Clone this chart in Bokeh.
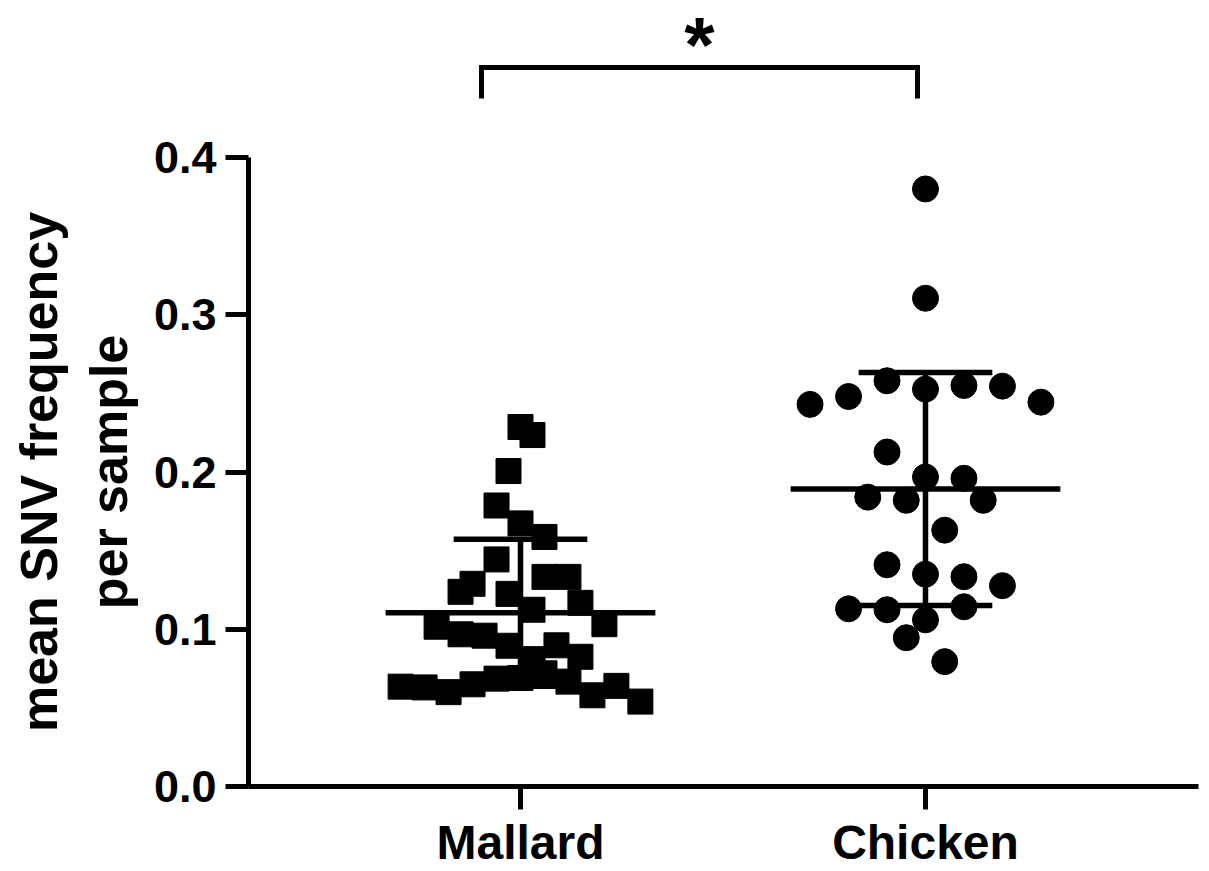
from bokeh.plotting import figure
from bokeh.models import FixedTicker, PrintfTickFormatter, Range1d
from bokeh.layouts import column
from bokeh.core.properties import value
from bokeh.embed import file_html
from bokeh.resources import INLINE

# ---------------- data ----------------
categories = ["Mallard", "Chicken"]
group_pos = [1, 2]

mallard_y = [0.2286, 0.2235, 0.2006, 0.1787, 0.1673, 0.1587, 0.1444, 0.1289,
             0.1238, 0.1225, 0.1333, 0.1333, 0.1168, 0.1124, 0.1032, 0.1016,
             0.0968, 0.0959, 0.0895, 0.0898, 0.0825, 0.0810, 0.0635, 0.0630,
             0.0600, 0.0650, 0.0686, 0.0690, 0.0720, 0.0667, 0.0580, 0.0640,
             0.0540]
mallard_slot = [0, 1, -1, -2, 0, 2, -2, -4, -5, -1, 2, 4, 5, 1, 7, -7,
                -5, -3, -1, 3, 5, 1, -10, -8, -6, -4, -2, 0, 2, 4, 6, 8, 10]

chicken_y = [0.3800, 0.3105, 0.2430, 0.2480, 0.2580, 0.2527, 0.2550, 0.2546,
             0.2444, 0.2127, 0.1968, 0.1960, 0.1840, 0.1820, 0.1820, 0.1630,
             0.1410, 0.1350, 0.1334, 0.1277, 0.1130, 0.1124, 0.1143, 0.1060,
             0.0946, 0.0794]
chicken_slot = [0, 0, -6, -4, -2, 0, 2, 4, 6, -2, 0, 2, -3, -1, 3, 1,
                -2, 0, 2, 4, -4, -2, 2, 0, -1, 1]

mean_vals = [0.1105, 0.1892]
sd_vals = [0.0467, 0.0741]

y_ticks = [0.0, 0.1, 0.2, 0.3, 0.4]
y_title = "mean SNV frequency\nper sample"
sig_label = "*"

# ---------------- layout / style constants ----------------
FONT = "Liberation Sans"
W = 1209
TOP_H = 127
MAIN_H = 871 - TOP_H
X_RANGE = Range1d(0.3284, 2.6741)
mallard_step = 0.0296   # swarm slot width (x units)
chicken_step = 0.0475
mean_half = 0.333
cap_half = 0.165
LW = 5.5

# ---------- top strip: significance bracket ----------
top = figure(width=W, height=TOP_H, output_backend="svg", toolbar_location=None,
             x_range=X_RANGE, y_range=Range1d(0.4191, 0.4997),
             min_border_left=248, min_border_right=11, min_border_top=0,
             min_border_bottom=0)
top.axis.visible = False
top.grid.visible = False
top.outline_line_color = None

br_x = [0.9037, 0.9037, 1.9802, 1.9802]
br_y = [0.4375, 0.4571, 0.4571, 0.4375]
top.line(br_x, br_y, line_width=5, line_color="black", line_join="miter")
top.text(x=[1.442], y=[0.4991], text=[sig_label], text_font=value(FONT),
         text_font_style="bold", text_font_size="78px", text_align="center",
         text_baseline="top", text_color="black")

# ---------- main plot ----------
p = figure(width=W, height=MAIN_H, output_backend="svg", toolbar_location=None,
           x_range=X_RANGE, y_range=Range1d(0, 0.4),
           min_border_left=248, min_border_right=11, min_border_top=30,
           min_border_bottom=84)
p.outline_line_color = None
p.grid.visible = False

for ax in (p.xaxis, p.yaxis):
    ax.axis_line_width = 5
    ax.axis_line_color = "black"
    ax.major_tick_line_width = 5
    ax.major_tick_line_color = "black"
    ax.major_tick_out = 23
    ax.major_tick_in = 0
    ax.minor_tick_line_color = None
    ax.major_label_text_font = FONT
    ax.major_label_text_font_style = "bold"
    ax.major_label_text_color = "black"

p.yaxis.ticker = FixedTicker(ticks=y_ticks)
p.yaxis.formatter = PrintfTickFormatter(format="%.1f")
p.yaxis.major_label_text_font_size = "45px"
p.yaxis.major_label_standoff = 9
p.yaxis.axis_label = y_title
p.yaxis.axis_label_text_font = FONT
p.yaxis.axis_label_text_font_style = "bold"
p.yaxis.axis_label_text_font_size = "52px"
p.yaxis.axis_label_text_color = "black"
p.yaxis.axis_label_standoff = 13

p.xaxis.ticker = FixedTicker(ticks=group_pos)
p.xaxis.major_label_overrides = {g: c for g, c in zip(group_pos, categories)}
p.xaxis.major_label_text_font_size = "48px"
p.xaxis.major_label_standoff = 6

# points
mx = [group_pos[0] + s * mallard_step for s in mallard_slot]
cx = [group_pos[1] + s * chicken_step for s in chicken_slot]
p.scatter(mx, mallard_y, marker="square", size=25, color="black")
p.scatter(cx, chicken_y, marker="circle", size=26, color="black")

# mean +/- SD
for g, m, s in zip(group_pos, mean_vals, sd_vals):
    p.segment(x0=[g - mean_half], y0=[m], x1=[g + mean_half], y1=[m],
              line_width=LW, line_color="black")
    p.segment(x0=[g], y0=[m - s], x1=[g], y1=[m + s],
              line_width=LW, line_color="black")
    p.segment(x0=[g - cap_half, g - cap_half], y0=[m + s, m - s],
              x1=[g + cap_half, g + cap_half], y1=[m + s, m - s],
              line_width=LW, line_color="black")

layout = column(top, p, spacing=0)
open("out.html", "w").write(file_html(layout, INLINE))
